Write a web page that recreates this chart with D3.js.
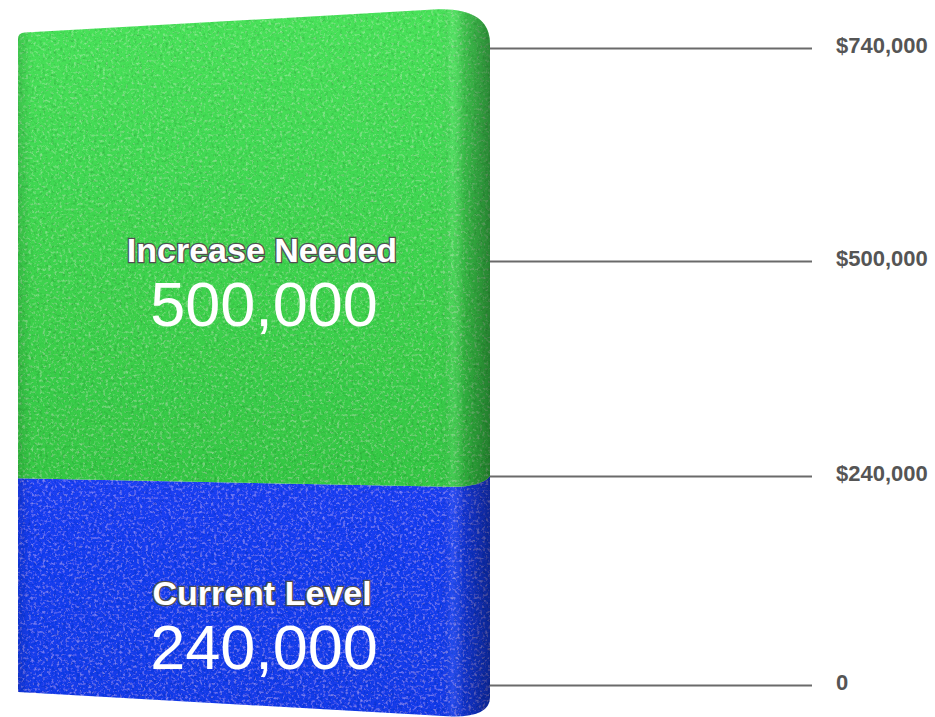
<!DOCTYPE html>
<html>
<head>
<meta charset="utf-8">
<script src="https://cdn.jsdelivr.net/npm/d3@7"></script>
<style>
body { margin: 0; background: #fff; }
</style>
</head>
<body>
<svg id="chart"></svg>
<script>
const tickValues = [0, 240000, 500000, 740000];
const tickLabels = ["0", "$240,000", "$500,000", "$740,000"];
const segNames = ["Current Level", "Increase Needed"];
const segValues = [240000, 500000];
const segValueLabels = ["240,000", "500,000"];

const width = 935, height = 717;
const total = d3.sum(segValues);

// axis scale (ticks in the picture are not evenly spaced)
const y = d3.scaleLinear().domain(tickValues).range([685, 476, 261, 48]);
// front face of the box is drawn a bit in perspective
const yLeft = d3.scaleLinear().domain([0, total]).range([692, 33]);
const yRight = d3.scaleLinear().domain([0, total]).range([717, 8]);
const xL = 18, xR = 460, xS = 490;

function fy(x, v) {
    return yLeft(v) + (yRight(v) - yLeft(v)) * (x - xL) / (xR - xL);
}

let ends = d3.cumsum(segValues);
let segs = segValues.map(function (d, i) {
    return {name: segNames[i], label: segValueLabels[i], v0: ends[i] - d, v1: ends[i], i: i};
});

function segPath(d) {
    let p = d3.path();
    let top = d.v1 >= total, bottom = d.v0 <= 0;
    if (top) {
        p.moveTo(xL, fy(xL, d.v1) + 6);
        p.quadraticCurveTo(xL, fy(xL, d.v1), xL + 7, fy(xL + 7, d.v1));
        p.lineTo(xR - 22, fy(xR - 22, d.v1));
        p.quadraticCurveTo(xS, fy(xR, d.v1), xS, y(d.v1) - 4);
    } else {
        p.moveTo(xL, yLeft(d.v1));
        p.lineTo(xR - 10, fy(xR - 10, d.v1));
        p.quadraticCurveTo(xS - 8, fy(xR, d.v1), xS, y(d.v1));
    }
    if (bottom) {
        p.lineTo(xS, y(d.v0) + 12);
        p.quadraticCurveTo(xS, yRight(d.v0), xR - 8, fy(xR - 8, d.v0));
        p.lineTo(xL, yLeft(d.v0));
    } else {
        p.lineTo(xS, y(d.v0));
        p.quadraticCurveTo(xS - 8, fy(xR, d.v0), xR - 10, fy(xR - 10, d.v0));
        p.lineTo(xL, yLeft(d.v0));
    }
    p.closePath();
    return p.toString();
}

let svg = d3.select("#chart").attr("width", width).attr("height", height);
let defs = svg.append("defs");

// fill gradients
let gGreen = defs.append("linearGradient").attr("id", "grad1")
    .attr("x1", 0).attr("y1", 0).attr("x2", 0).attr("y2", 1);
gGreen.append("stop").attr("offset", "0%").attr("stop-color", "#48e25a");
gGreen.append("stop").attr("offset", "100%").attr("stop-color", "#35c744");

let gBlue = defs.append("linearGradient").attr("id", "grad0")
    .attr("x1", 0).attr("y1", 0).attr("x2", 0).attr("y2", 1);
gBlue.append("stop").attr("offset", "0%").attr("stop-color", "#1a3ff3");
gBlue.append("stop").attr("offset", "100%").attr("stop-color", "#173be8");

// side shading
let shade = defs.append("linearGradient").attr("id", "shade")
    .attr("gradientUnits", "userSpaceOnUse")
    .attr("x1", xL).attr("y1", 0).attr("x2", xS).attr("y2", 0);
[[18, "#000", 0.12], [32, "#000", 0], [440, "#000", 0], [452, "#fff", 0.08], [464, "#000", 0.14], [490, "#000", 0.38]]
    .forEach(function (s) {
        shade.append("stop").attr("offset", (s[0] - xL) / (xS - xL))
            .attr("stop-color", s[1]).attr("stop-opacity", s[2]);
    });

// grainy texture
let noise = defs.append("filter").attr("id", "noise")
    .attr("x", 0).attr("y", 0).attr("width", "100%").attr("height", "100%");
noise.append("feTurbulence").attr("type", "fractalNoise")
    .attr("baseFrequency", 0.35).attr("numOctaves", 3).attr("seed", 4).attr("result", "t");
noise.append("feColorMatrix").attr("in", "t").attr("type", "matrix")
    .attr("values", "0 0 0 0 0  0 0 0 0 0  0 0 0 0 0  0.8 0 0 0 -0.41").attr("result", "dark");
noise.append("feColorMatrix").attr("in", "t").attr("type", "matrix")
    .attr("values", "0 0 0 0 1  0 0 0 0 1  0 0 0 0 1  0 -0.6 0 0 0.28").attr("result", "light");
noise.append("feComposite").attr("in", "dark").attr("in2", "SourceGraphic").attr("operator", "in").attr("result", "d2");
noise.append("feComposite").attr("in", "light").attr("in2", "SourceGraphic").attr("operator", "in").attr("result", "l2");
let merge = noise.append("feMerge");
merge.append("feMergeNode").attr("in", "SourceGraphic");
merge.append("feMergeNode").attr("in", "d2");
merge.append("feMergeNode").attr("in", "l2");

let clip = defs.append("clipPath").attr("id", "barclip");
clip.selectAll("path").data(segs).enter().append("path").attr("d", segPath);

// axis lines and labels
let axis = d3.axisRight(y)
    .tickValues(tickValues)
    .tickSize(322)
    .tickPadding(24)
    .tickFormat(function (d, i) { return tickLabels[i]; });

let gAxis = svg.append("g")
    .attr("transform", "translate(" + xS + ",0)")
    .call(axis);
gAxis.select(".domain").remove();
gAxis.selectAll(".tick line").attr("stroke", "#6a6a6a").attr("stroke-width", 2.2);
gAxis.selectAll(".tick text")
    .attr("dy", "0.2em")
    .attr("fill", "#555")
    .style("font-family", "'Liberation Sans', Arial, sans-serif")
    .style("font-size", "22px")
    .style("font-weight", "bold");

// the box
let bar = svg.append("g");
bar.selectAll("path.seg")
    .data(segs)
    .enter().append("path")
    .attr("class", "seg")
    .attr("d", segPath)
    .attr("fill", function (d) { return "url(#grad" + d.i + ")"; })
    .attr("filter", "url(#noise)");

bar.append("rect")
    .attr("x", 0).attr("y", 0).attr("width", xS + 2).attr("height", height)
    .attr("fill", "url(#shade)")
    .attr("clip-path", "url(#barclip)");

// segment labels
let cx = 262;
let labels = svg.append("g").attr("text-anchor", "middle")
    .style("font-family", "'Liberation Sans', Arial, sans-serif");

labels.selectAll("text.name")
    .data(segs)
    .enter().append("text")
    .attr("class", "name")
    .attr("x", cx)
    .attr("y", function (d) { return (fy(cx, d.v0) + fy(cx, d.v1)) / 2 + 11; })
    .attr("fill", "#fff")
    .attr("stroke", "#505050")
    .attr("stroke-width", 2.6)
    .attr("paint-order", "stroke")
    .style("font-size", "34px")
    .style("font-weight", "bold")
    .text(function (d) { return d.name; });

labels.selectAll("text.value")
    .data(segs)
    .enter().append("text")
    .attr("class", "value")
    .attr("x", cx + 2)
    .attr("y", function (d) { return (fy(cx, d.v0) + fy(cx, d.v1)) / 2 + 75; })
    .attr("fill", "#fff")
    .style("font-size", "63px")
    .text(function (d) { return d.label; });
</script>
</body>
</html>
